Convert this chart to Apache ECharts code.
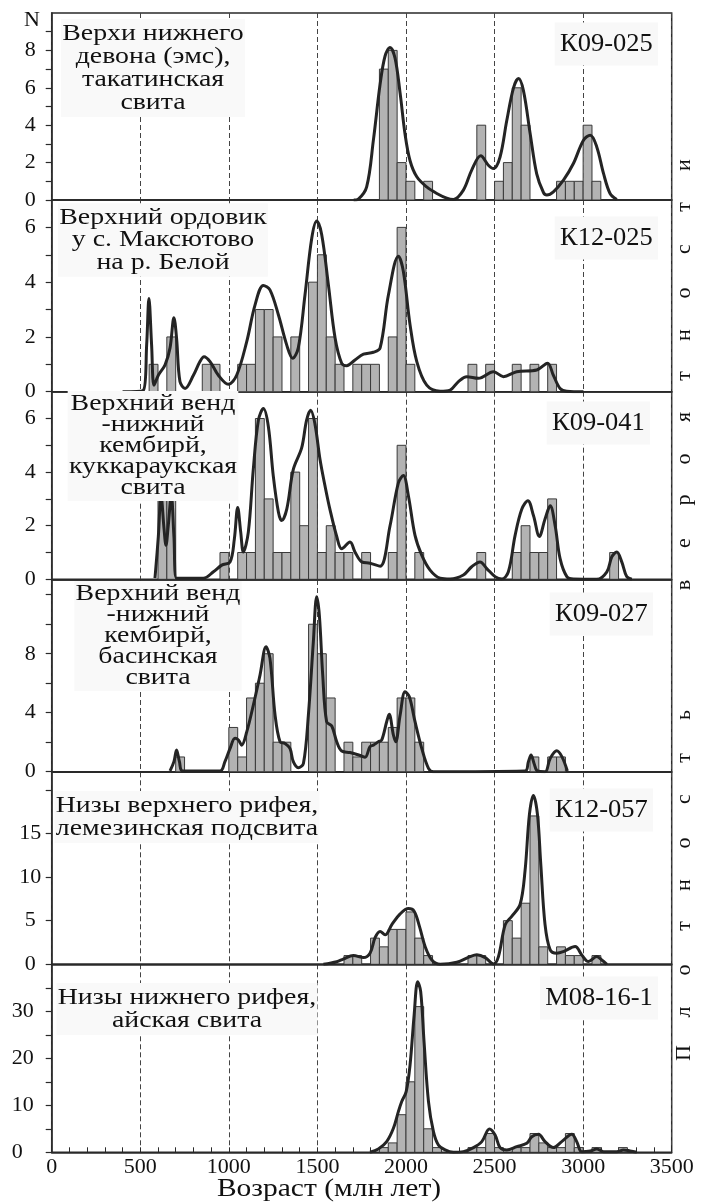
<!DOCTYPE html>
<html><head><meta charset="utf-8">
<script src="https://cdn.jsdelivr.net/npm/echarts@6/dist/echarts.min.js"></script>
<style>html,body{margin:0;padding:0;background:#fff}#c{width:702px;height:1203px}</style>
</head><body><div id="c"></div>
<script>
const BIN = 50;
const xTicks = [0, 500, 1000, 1500, 2000, 2500, 3000, 3500];

// Histogram bins: [bin start (Ma), count]
const p1Bins = [[1850,7],[1900,8],[1950,2],[2000,1],[2100,1],[2400,4],[2500,1],[2550,2],[2600,6],[2650,4],[2850,1],[2900,1],[2950,1],[3000,4],[3050,1]];
const p2Bins = [[550,1],[650,2],[850,1],[900,1],[1050,1],[1100,1],[1150,3],[1200,3],[1250,2],[1350,2],[1450,4],[1500,5],[1550,2],[1600,1],[1700,1],[1750,1],[1800,1],[1900,2],[1950,6],[2000,1],[2350,1],[2450,1],[2600,1],[2700,1],[2800,1]];
const p3Bins = [[600,3],[650,3],[950,1],[1050,1],[1100,1],[1150,6],[1200,3],[1250,1],[1300,1],[1350,4],[1400,2],[1450,6],[1500,1],[1550,2],[1600,1],[1650,1],[1750,1],[1900,1],[1950,5],[2050,1],[2400,1],[2600,1],[2650,2],[2700,1],[2750,1],[2800,3],[3150,1]];
const p4Bins = [[700,1],[1000,3],[1050,1],[1100,5],[1150,6],[1200,8],[1250,2],[1300,2],[1450,10],[1500,8],[1550,5],[1650,2],[1700,1],[1750,2],[1800,2],[1850,2],[1900,3],[1950,5],[2000,5],[2050,2],[2700,1],[2800,1],[2850,1]];
const p5Bins = [[1650,1],[1700,1],[1800,3],[1850,2],[1900,4],[1950,4],[2000,6],[2050,3],[2100,1],[2350,1],[2400,1],[2550,5],[2600,3],[2650,7],[2700,17],[2750,2],[2850,2],[2900,1],[2950,1],[3050,1]];
const p6Bins = [[1850,1],[1900,2],[1950,8],[2000,15],[2050,31],[2100,5],[2150,1],[2350,1],[2400,1],[2450,4],[2500,1],[2600,1],[2650,1],[2700,4],[2750,2],[2800,1],[2850,1],[2900,4],[2950,1],[3050,1],[3200,1]];

// Probability density curves: [age, value in N units]
const p1Curve = [[1705,0],[1731,0.05],[1778,0.7],[1816,3.2],[1854,6.2],[1882,7.7],[1910,8.15],[1938,7.6],[1967,5.7],[1995,3.5],[2023,2.1],[2061,1.24],[2117,0.7],[2174,0.35],[2230,0.1],[2268,0.03],[2324,0.53],[2371,1.6],[2422,2.36],[2465,1.86],[2494,1.68],[2531,2.3],[2569,4.25],[2607,6.0],[2635,6.5],[2663,5.85],[2701,3.55],[2738,1.4],[2776,0.4],[2795,0.27],[2832,0.44],[2889,1.06],[2945,1.95],[3002,3.2],[3040,3.46],[3077,2.84],[3115,1.42],[3152,0.35],[3190,0.03]];
const p2Curve = [[400,0],[517,0.05],[536,1.7],[549,3.4],[564,1.7],[578,0.24],[602,0.6],[640,0.98],[668,1.6],[690,2.7],[705,1.95],[724,0.37],[753,0.12],[800,0.6],[837,1.1],[860,1.28],[894,1.1],[941,0.6],[997,0.27],[1044,0.6],[1101,1.83],[1148,3.17],[1195,3.88],[1232,3.72],[1280,2.8],[1327,1.7],[1360,1.22],[1392,1.6],[1430,3.54],[1468,5.6],[1496,6.23],[1524,5.74],[1562,3.9],[1600,1.95],[1637,1.04],[1665,0.95],[1712,1.16],[1760,1.37],[1816,1.44],[1854,1.6],[1901,3.54],[1957,4.95],[1985,4.4],[2023,2.44],[2061,1.1],[2117,0.24],[2193,0.02],[2249,0.06],[2296,0.37],[2343,0.55],[2409,0.49],[2494,0.73],[2550,0.55],[2625,0.73],[2738,0.79],[2799,1.04],[2832,0.6],[2870,0.12],[2908,0.02],[3002,0]];
const p3Curve = [[583,0.04],[602,1.6],[617,3.15],[634,1.9],[645,1.27],[658,2.0],[675,3.15],[690,1.6],[705,0.04],[856,0.04],[913,0.28],[960,0.53],[1007,0.65],[1031,1.5],[1050,2.68],[1067,1.76],[1082,1.02],[1110,1.76],[1138,4.1],[1167,5.94],[1195,6.37],[1223,5.7],[1251,3.85],[1280,2.5],[1298,2.19],[1327,2.62],[1364,4.1],[1411,4.9],[1439,5.94],[1462,6.31],[1486,5.8],[1515,4.46],[1543,3.48],[1571,2.6],[1609,1.6],[1637,1.14],[1684,1.39],[1712,1.02],[1750,0.65],[1797,0.6],[1854,0.49],[1910,2.0],[1957,3.6],[1985,3.87],[2014,3.1],[2051,1.64],[2089,0.9],[2136,0.34],[2193,0.04],[2249,0.01],[2324,0.16],[2371,0.47],[2418,0.65],[2456,0.4],[2503,0.1],[2541,0.01],[2578,0.28],[2616,1.64],[2654,2.62],[2688,2.93],[2720,2.37],[2753,1.6],[2785,2.25],[2814,2.74],[2842,2.0],[2870,0.77],[2908,0.1],[2945,0.01],[3077,0],[3134,0.28],[3162,0.84],[3190,1.02],[3218,0.65],[3246,0.1],[3275,0]];
const p4Curve = [[668,0.05],[690,0.68],[705,1.47],[721,0.68],[739,0.05],[950,0.05],[978,0.68],[1007,1.58],[1035,2.26],[1054,2.15],[1072,1.8],[1101,2.7],[1138,4.5],[1176,6.55],[1210,8.47],[1232,7.7],[1261,3.84],[1289,2.03],[1317,1.92],[1345,1.58],[1364,0.68],[1392,0.27],[1421,0.56],[1449,3.84],[1477,8.81],[1496,11.86],[1511,10.6],[1530,6.55],[1552,3.39],[1581,3.1],[1609,2.03],[1637,1.4],[1684,1.3],[1741,1.1],[1769,0.98],[1797,1.7],[1816,1.8],[1844,2.03],[1863,2.15],[1891,3.39],[1905,3.89],[1929,2.49],[1942,2.03],[1967,3.84],[1995,5.42],[2019,5.08],[2051,3.39],[2089,1.58],[2127,0.23],[2155,0],[2672,0.05],[2691,0.68],[2706,1.13],[2723,0.56],[2742,0.05],[2785,0],[2814,0.9],[2851,1.42],[2880,1.02],[2911,0.05]];
const p5Curve = [[1534,0],[1609,0.3],[1646,0.6],[1703,1.0],[1760,0.77],[1797,1.27],[1826,3.08],[1854,3.77],[1882,3.38],[1920,4.54],[1967,5.77],[2014,6.38],[2046,6.08],[2076,4.35],[2108,2.04],[2146,0.5],[2193,0],[2287,0.23],[2362,0.88],[2400,1.08],[2447,0.77],[2494,0.04],[2522,0.88],[2560,4.54],[2597,5.5],[2644,6.85],[2672,10.7],[2697,17.2],[2719,19.35],[2742,17.2],[2761,11.46],[2785,4.54],[2814,1.65],[2851,1.27],[2889,1.46],[2955,2.04],[2992,1.08],[3030,0.31],[3077,0.88],[3105,0.5],[3134,0]];
const p6Curve = [[1797,0],[1844,0.7],[1891,2.27],[1929,5.1],[1957,8.65],[1976,10.8],[2001,12.9],[2023,18.6],[2046,29.2],[2066,36.3],[2083,34.2],[2102,23.5],[2127,10.8],[2155,4.4],[2183,1.56],[2221,0.5],[2268,0],[2324,0.14],[2381,1.0],[2428,2.27],[2471,4.96],[2503,3.69],[2531,1.0],[2569,0.5],[2625,1.2],[2682,1.9],[2710,3.3],[2748,3.83],[2785,2.27],[2832,1.0],[2879,2.27],[2936,3.83],[2964,2.27],[2992,0.14],[3040,0.28],[3077,0.7],[3115,0.14],[3190,0.14],[3228,0.5],[3265,0.28],[3303,0]];

const yMax = [10, 7, 7, 13, 22, 40];
const yInterval = [1, 1, 1, 2, 5, 5];
const yLabels = [[0,2,4,6,8],[0,2,4,6],[0,2,4,6],[0,4,8],[0,5,10,15],[0,10,20,30]];

const panelTitles = [
  'Верхи нижнего\nдевона (эмс),\nтакатинская\nсвита',
  'Верхний ордовик\nу с. Максютово\nна р. Белой',
  'Верхний венд\n-нижний\nкембирй,\nкуккараукская\nсвита',
  'Верхний венд\n-нижний\nкембирй,\nбасинская\nсвита',
  'Низы верхнего рифея,\nлемезинская подсвита',
  'Низы нижнего рифея,\nайская свита'
];
const sampleIds = ['К09-025','К12-025','К09-041','К09-027','К12-057','М08-16-1'];
const yTitle = 'N';
const xTitle = 'Возраст (млн лет)';
const sideTitle = 'Плотность вероятности';

const allBins = [p1Bins,p2Bins,p3Bins,p4Bins,p5Bins,p6Bins];
const allCurves = [p1Curve,p2Curve,p3Curve,p4Curve,p5Curve,p6Curve];

// layout
const gridTops = [13, 200, 391.7, 580, 772.3, 964.3];
const gridBottoms = [200, 391.7, 579.3, 771.7, 964.3, 1152.3];
const LEFT = 51.7, RIGHT = 702 - 671.7;
const FONT = "'Liberation Serif','DejaVu Serif',serif";
const titlePos = [[153,68,23],[163,240,22.5],[153,446,20.8],[158,636,20.8],[187,817,23],[187,1009,23]];
const idPos = [[658,44],[658,238],[650,423],[653,614],[653,810],[658,998]];
const sideY = [1053,1012,970,926,885,843,799,758,715,null,585,543,500,459,417,376,335,293,249,207,165];

const chart = echarts.init(document.getElementById('c'), null, {renderer:'canvas'});

const grids = [], xAxes = [], yAxes = [], series = [];
for (let i = 0; i < 6; i++) {
  grids.push({left: LEFT, right: RIGHT, top: gridTops[i], height: gridBottoms[i]-gridTops[i],
    show: true, borderColor: '#2a2a2a', borderWidth: 1.5, backgroundColor: 'transparent'});
  const last = i === 5;
  xAxes.push({type:'value', gridIndex:i, min:0, max:3500, interval:500,
    axisLine:{show:true, lineStyle:{color:'#2a2a2a', width:1.5}},
    axisTick:{show:last, inside:true, length:5, lineStyle:{color:'#2a2a2a', width:1}},
    minorTick:{show:last, splitNumber:5, length:5, lineStyle:{color:'#2a2a2a', width:1}},
    axisLabel:{show:last, color:'#111', fontFamily:FONT, fontSize:22, margin:4,
      customValues: xTicks, formatter: v => String(v)},
    splitLine:{show:true, lineStyle:{color:'#444', width:1, type:[5,3]}}
  });
  yAxes.push({type:'value', gridIndex:i, min:0, max:yMax[i], interval:yInterval[i],
    axisLine:{show:true, lineStyle:{color:'#2a2a2a', width:1.5}},
    axisTick:{show:true, inside:false, length:6, lineStyle:{color:'#2a2a2a', width:1.2}},
    axisLabel:{show:true, color:'#111', fontFamily:FONT, fontSize:22,
      align: last ? 'left' : 'center', margin: last ? 40 : 21.5,
      showMaxLabel: false,
      formatter: v => yLabels[i].indexOf(v) >= 0 ? String(v) : ''},
    splitLine:{show:false}
  });
  series.push({type:'custom', xAxisIndex:i, yAxisIndex:i, data: allBins[i],
    encode:{x:0, y:1}, z:2, clip:true,
    renderItem: function(params, api){
      const s = api.value(0), n = api.value(1);
      const a = api.coord([s, 0]);
      const b = api.coord([s + BIN, n]);
      return {type:'rect', shape:{x:a[0], y:b[1], width:b[0]-a[0], height:a[1]-b[1]},
        style:{fill:'#b3b3b3', stroke:'#3a3a3a', lineWidth:1}};
    }
  });
  series.push({type:'line', xAxisIndex:i, yAxisIndex:i, data: allCurves[i],
    smooth:0.35, showSymbol:false, symbol:'none', z:3, clip:true,
    lineStyle:{color:'#242424', width:3}});
}

const graphics = [];
for (let i = 0; i < 6; i++) {
  const tp = titlePos[i];
  graphics.push({type:'text', x: tp[0], y: tp[1], z:10, scaleX: 1.21,
    style:{text: panelTitles[i], font: `23px ${FONT}`, fill:'#111', textAlign:'center', textVerticalAlign:'middle',
      lineHeight: tp[2], backgroundColor:'#f9f9f9', padding:[3,1]}});
  const ip = idPos[i];
  graphics.push({type:'text', x: ip[0], y: ip[1], z:10, scaleX: 1.06,
    style:{text: sampleIds[i], font: `25px ${FONT}`, fill:'#111', textAlign:'right', textVerticalAlign:'middle',
      backgroundColor:'#f8f8f8', padding:[9,5]}});
}
graphics.push({type:'text', x: 32, y: 20, z:10,
  style:{text: yTitle, font: `22px ${FONT}`, fill:'#111', textAlign:'center', textVerticalAlign:'middle'}});
graphics.push({type:'text', x: 329, y: 1189, z:10, scaleX: 1.18,
  style:{text: xTitle, font: `25px ${FONT}`, fill:'#111', textAlign:'center', textVerticalAlign:'middle'}});
const letters = Array.from(sideTitle);
for (let k = 0; k < letters.length; k++) {
  if (letters[k] === ' ' || sideY[k] == null) continue;
  graphics.push({type:'text', x: 684, y: sideY[k], rotation: Math.PI/2, z:10,
    style:{text: letters[k], font: `22px ${FONT}`, fill:'#111', textAlign:'center', textVerticalAlign:'middle'}});
}

chart.setOption({
  animation:false,
  backgroundColor:'#fff',
  grid: grids, xAxis: xAxes, yAxis: yAxes, series: series,
  graphic: graphics
});
</script>
</body></html>
